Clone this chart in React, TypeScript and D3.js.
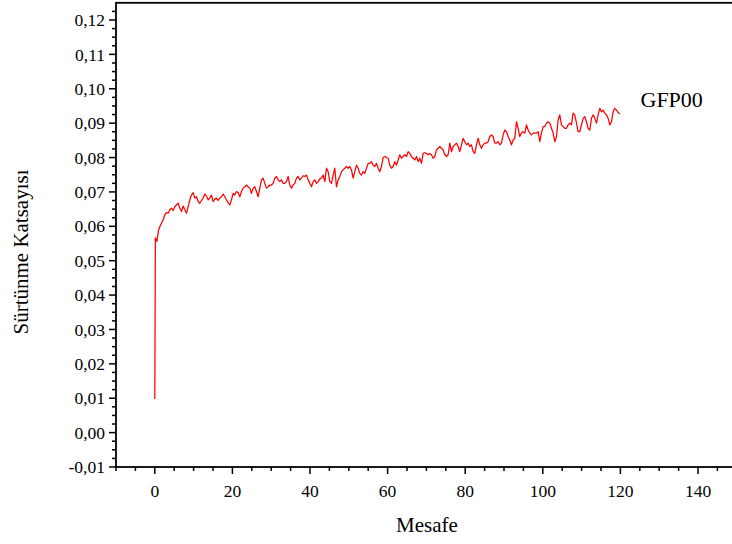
import React from "react";
import * as d3 from "d3";

const W = 732;
const H = 544;

const xTickValues = [0, 20, 40, 60, 80, 100, 120, 140];
const yTickValues = [-0.01, 0, 0.01, 0.02, 0.03, 0.04, 0.05, 0.06, 0.07, 0.08, 0.09, 0.1, 0.11, 0.12];
const xTitle = "Mesafe";
const yTitle = "Sürtünme Katsayısı";
const seriesName = "GFP00";

// initial run-in jump
const startDistance = [0, 0.15, 0.55, 0.95];
const startFriction = [0.0098, 0.0566, 0.0556, 0.0588];

// sampled section: distance = SAMPLE_X0 + i * SAMPLE_STEP
const SAMPLE_X0 = 1.289;
const SAMPLE_STEP = 0.42955;

const frictionA = [
  0.0599, 0.0609, 0.0619, 0.0633, 0.064, 0.0638, 0.0648, 0.0653, 0.0646, 0.0657,
  0.0662, 0.0667, 0.0653, 0.0643, 0.0659, 0.0648, 0.0638, 0.0657, 0.0677, 0.0691,
  0.0698, 0.0682, 0.0686, 0.0672, 0.0667, 0.0675, 0.0682, 0.0694, 0.0688, 0.0677,
  0.0682, 0.0691, 0.0672, 0.0679, 0.0682, 0.0675, 0.0682, 0.0686, 0.0694, 0.0686,
  0.0677, 0.0669, 0.0662, 0.0677, 0.0696, 0.0691, 0.0701, 0.0698, 0.0686,
];
const frictionB = [
  0.0701, 0.0711, 0.0715, 0.072, 0.0715, 0.0711, 0.0696, 0.0711, 0.0715, 0.0701,
  0.0686, 0.0711, 0.0735, 0.074, 0.0725, 0.0711, 0.0715, 0.072, 0.072, 0.0725,
  0.074, 0.0745, 0.0735, 0.073, 0.0735, 0.0725, 0.0725, 0.073, 0.0745, 0.072,
  0.0711, 0.072, 0.0725, 0.074, 0.0745, 0.0735, 0.074, 0.0747, 0.0745, 0.0749,
  0.0735, 0.0725, 0.0715, 0.073, 0.0735, 0.0725, 0.073, 0.0738, 0.074, 0.0749,
  0.073,
];
const frictionC = [
  0.0769, 0.0759, 0.073, 0.0725, 0.0749, 0.0769, 0.0715, 0.0735, 0.0745, 0.0759,
  0.0764, 0.0769, 0.0774, 0.0769, 0.0774, 0.0764, 0.074, 0.0759, 0.0778, 0.0769,
  0.0754, 0.0749, 0.0759, 0.0754, 0.0769, 0.0783, 0.0783, 0.0788, 0.0778, 0.0774,
  0.0783, 0.0769, 0.0759, 0.0774, 0.08, 0.0803, 0.08, 0.0798, 0.0778, 0.0769,
  0.0774, 0.0788, 0.0778, 0.0793, 0.0808, 0.0798, 0.0803, 0.0808, 0.0803, 0.0817,
  0.0812,
];
const frictionD = [
  0.0803, 0.0798, 0.0793, 0.0803, 0.0788, 0.0798, 0.0783, 0.0812, 0.0814, 0.0812,
  0.0808, 0.0812, 0.0808, 0.0798, 0.0803, 0.0822, 0.0827, 0.0832, 0.0827, 0.0822,
  0.0808, 0.0803, 0.0808, 0.0842, 0.0817, 0.0832, 0.0837, 0.0842, 0.0832, 0.0817,
  0.0837, 0.0856, 0.0846, 0.0837, 0.0842, 0.0832, 0.0837, 0.0817, 0.0812, 0.0837,
  0.0856, 0.0837, 0.0827, 0.0837, 0.0842, 0.0842, 0.0846, 0.0861, 0.0866, 0.0861,
  0.0842,
];
const frictionE = [
  0.0842, 0.0846, 0.0837, 0.0842, 0.0866, 0.088, 0.0875, 0.0861, 0.0851, 0.0837,
  0.0851, 0.0856, 0.0904, 0.0885, 0.0861, 0.0871, 0.0875, 0.0871, 0.0895, 0.088,
  0.0871, 0.0866, 0.0871, 0.0871, 0.0871, 0.0875, 0.0846, 0.0871, 0.089, 0.089,
  0.09, 0.0904, 0.09, 0.0885, 0.0871, 0.0846, 0.0861, 0.0909, 0.0924, 0.0895,
  0.089, 0.0885, 0.0885, 0.0895, 0.09, 0.0895, 0.0929, 0.0924, 0.09, 0.0875,
  0.0875,
];
const frictionF = [
  0.0895, 0.0914, 0.0919, 0.0904, 0.0885, 0.088, 0.0914, 0.0924, 0.0914, 0.09,
  0.0924, 0.0943, 0.0933, 0.0938, 0.0929, 0.0924, 0.0914, 0.0895, 0.0904, 0.0933,
  0.0943, 0.0938, 0.0931, 0.0927,
];

const FONT = "'Liberation Serif', 'Times New Roman', serif";

export default function App() {
  const x = d3.scaleLinear().domain([-10, 150]).range([116, 736.8]);
  const y = d3.scaleLinear().domain([-0.01, 0.125]).range([467, 2.8]);

  const sampled = [...frictionA, ...frictionB, ...frictionC, ...frictionD, ...frictionE, ...frictionF];
  const points: [number, number][] = [
    ...startDistance.map((d, i) => [d, startFriction[i]] as [number, number]),
    ...sampled.map((v, i) => [SAMPLE_X0 + i * SAMPLE_STEP, v] as [number, number]),
  ];
  const line = d3
    .line<[number, number]>()
    .x((d) => x(d[0]))
    .y((d) => y(d[1]));

  const xMinor = d3.range(-10, 151, 5).filter((v) => !xTickValues.includes(v));
  const yMinor = d3
    .range(-40, 50)
    .map((i) => i * 0.0025)
    .filter((v) => v > -0.01 && v < 0.1249 && Math.abs(Math.round(v * 100) - v * 100) > 1e-6);

  const fmtY = (v: number) => d3.format(".2f")(v).replace(".", ",").replace("−", "-");

  const [x0, x1] = x.range();
  const [y0, y1] = y.range();

  return (
    <svg
      width={W}
      height={H}
      style={{ position: "absolute", left: 0, top: 0, background: "#fff" }}
      fontFamily={FONT}
    >
      <rect x={0} y={0} width={W} height={H} fill="#fff" />
      <path d={line(points) || ""} fill="none" stroke="#ff0000" strokeWidth={1.25} strokeLinejoin="round" />

      {/* frame */}
      <rect x={x0} y={y1} width={x1 - x0} height={y0 - y1} fill="none" stroke="#000" strokeWidth={1.8} />

      {/* y ticks */}
      {yTickValues.map((v) => (
        <g key={"yt" + v}>
          <line x1={x0 - 7} x2={x0} y1={y(v)} y2={y(v)} stroke="#000" strokeWidth={1.5} />
          <text x={x0 - 11} y={y(v)} dy="0.35em" textAnchor="end" fontSize={17.5} fill="#000">
            {fmtY(v)}
          </text>
        </g>
      ))}
      {yMinor.map((v) => (
        <line key={"ym" + v} x1={x0 - 4} x2={x0} y1={y(v)} y2={y(v)} stroke="#000" strokeWidth={1.5} />
      ))}

      {/* x ticks */}
      {xTickValues.map((v) => (
        <g key={"xt" + v}>
          <line x1={x(v)} x2={x(v)} y1={y0} y2={y0 + 7} stroke="#000" strokeWidth={1.5} />
          <text x={x(v)} y={497} textAnchor="middle" fontSize={17.5} fill="#000">
            {v}
          </text>
        </g>
      ))}
      {xMinor.map((v) => (
        <line key={"xm" + v} x1={x(v)} x2={x(v)} y1={y0} y2={y0 + 4} stroke="#000" strokeWidth={1.5} />
      ))}

      {/* titles */}
      <text x={427} y={532} textAnchor="middle" fontSize={21} fill="#000">
        {xTitle}
      </text>
      <text transform="translate(28,252) rotate(-90)" textAnchor="middle" fontSize={21} fill="#000">
        {yTitle}
      </text>
      <text x={640.5} y={107.3} fontSize={22} fill="#000">
        {seriesName}
      </text>
    </svg>
  );
}
